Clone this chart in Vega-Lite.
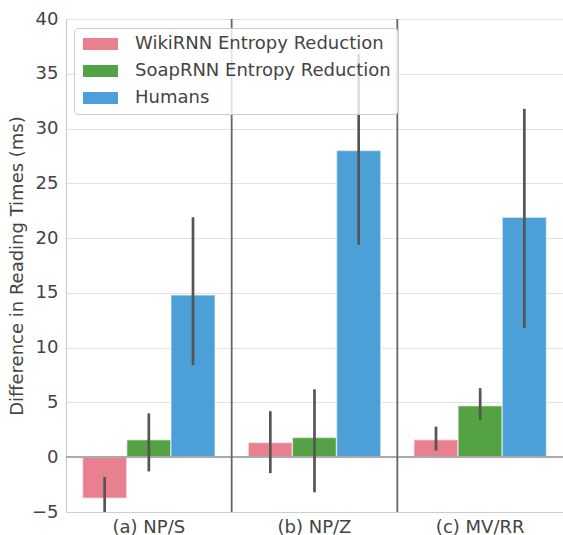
{
  "$schema": "https://vega.github.io/schema/vega-lite/v6.json",
  "width": 497,
  "height": 493,
  "autosize": {"type": "none"},
  "padding": {"left": 66, "top": 19, "right": 0, "bottom": 23},
  "background": "white",
  "config": {
    "font": "DejaVu Sans",
    "view": {"stroke": null},
    "axis": {"labelFont": "DejaVu Sans", "titleFont": "DejaVu Sans", "labelColor": "#444444", "titleColor": "#444444", "labelFontSize": 18, "titleFontSize": 18, "titleFontWeight": "normal"}
  },
  "datasets": {
    "bars": [
      {"group": "(a) NP/S", "series": "WikiRNN Entropy Reduction", "value": -3.75, "lo": -1.8, "hi": -5.8},
      {"group": "(a) NP/S", "series": "SoapRNN Entropy Reduction", "value": 1.6, "lo": -1.3, "hi": 4.0},
      {"group": "(a) NP/S", "series": "Humans", "value": 14.8, "lo": 8.4, "hi": 21.9},
      {"group": "(b) NP/Z", "series": "WikiRNN Entropy Reduction", "value": 1.35, "lo": -1.45, "hi": 4.2},
      {"group": "(b) NP/Z", "series": "SoapRNN Entropy Reduction", "value": 1.8, "lo": -3.2, "hi": 6.2},
      {"group": "(b) NP/Z", "series": "Humans", "value": 28.0, "lo": 19.4, "hi": 36.8},
      {"group": "(c) MV/RR", "series": "WikiRNN Entropy Reduction", "value": 1.6, "lo": 0.6, "hi": 2.8},
      {"group": "(c) MV/RR", "series": "SoapRNN Entropy Reduction", "value": 4.7, "lo": 3.4, "hi": 6.3},
      {"group": "(c) MV/RR", "series": "Humans", "value": 21.9, "lo": 11.8, "hi": 31.8}
    ],
    "separators": [
      {"group": "(b) NP/Z"},
      {"group": "(c) MV/RR"}
    ]
  },
  "layer": [
    {
      "data": {"name": "bars"},
      "mark": {"type": "bar", "stroke": "white", "strokeOpacity": 0.5, "strokeWidth": 1.5, "clip": true},
      "encoding": {
        "x": {
          "field": "group", "type": "nominal",
          "sort": ["(a) NP/S", "(b) NP/Z", "(c) MV/RR"],
          "scale": {"paddingInner": 0, "paddingOuter": 0},
          "axis": {"title": null, "labelAngle": 0, "labelAlign": "center", "bandPosition": 0.5, "domain": true, "domainColor": "#cccccc", "domainWidth": 1.2, "ticks": false, "labelPadding": 6, "grid": false}
        },
        "xOffset": {
          "field": "series", "type": "nominal",
          "sort": ["WikiRNN Entropy Reduction", "SoapRNN Entropy Reduction", "Humans"],
          "scale": {"paddingInner": 0, "paddingOuter": 0.375}
        },
        "y": {
          "field": "value", "type": "quantitative",
          "scale": {"domain": [-5, 40], "nice": false, "zero": false},
          "axis": {"title": "Difference in Reading Times (ms)", "values": [-5, 0, 5, 10, 15, 20, 25, 30, 35, 40], "grid": true, "gridColor": "#e2e2e2", "gridWidth": 1.2, "domain": true, "domainColor": "#cccccc", "domainWidth": 1.2, "ticks": false, "labelPadding": 8, "titlePadding": 5}
        },
        "color": {
          "field": "series", "type": "nominal",
          "sort": ["WikiRNN Entropy Reduction", "SoapRNN Entropy Reduction", "Humans"],
          "scale": {"domain": ["WikiRNN Entropy Reduction", "SoapRNN Entropy Reduction", "Humans"], "range": ["#e8808f", "#55a245", "#4d9fd7"]},
          "legend": {
            "title": null,
            "orient": "none",
            "legendX": 8,
            "legendY": 9,
            "padding": 7,
            "fillColor": "rgba(255,255,255,0.8)",
            "strokeColor": "#cccccc",
            "cornerRadius": 4,
            "labelFont": "DejaVu Sans",
            "labelFontSize": 18,
            "labelColor": "#444444",
            "symbolType": "M-0.875,-0.75H3.5V0.75H-0.875Z",
            "symbolSize": 256,
            "symbolStrokeWidth": 0,
            "symbolOpacity": 1,
            "labelOffset": 36,
            "rowPadding": 9,
            "labelLimit": 400
          }
        }
      }
    },
    {
      "data": {"name": "bars"},
      "mark": {"type": "rule", "color": "#aaaaaa", "strokeWidth": 1.5},
      "encoding": {"y": {"datum": 0, "type": "quantitative"}}
    },
    {
      "data": {"name": "separators"},
      "mark": {"type": "rule", "color": "#666666", "strokeWidth": 1.8},
      "encoding": {
        "x": {"field": "group", "type": "nominal", "bandPosition": 0, "sort": ["(a) NP/S", "(b) NP/Z", "(c) MV/RR"],
          "axis": {"title": null, "labelAngle": 0, "labelAlign": "center", "bandPosition": 0.5, "domain": true, "domainColor": "#cccccc", "domainWidth": 1.2, "ticks": false, "labelPadding": 6, "grid": false}}
      }
    },
    {
      "data": {"name": "bars"},
      "mark": {"type": "rule", "color": "#555555", "strokeWidth": 2.7, "clip": true},
      "encoding": {
        "x": {"field": "group", "type": "nominal", "sort": ["(a) NP/S", "(b) NP/Z", "(c) MV/RR"]},
        "xOffset": {"field": "series", "type": "nominal", "sort": ["WikiRNN Entropy Reduction", "SoapRNN Entropy Reduction", "Humans"]},
        "y": {"field": "lo", "type": "quantitative"},
        "y2": {"field": "hi"}
      }
    }
  ]
}
